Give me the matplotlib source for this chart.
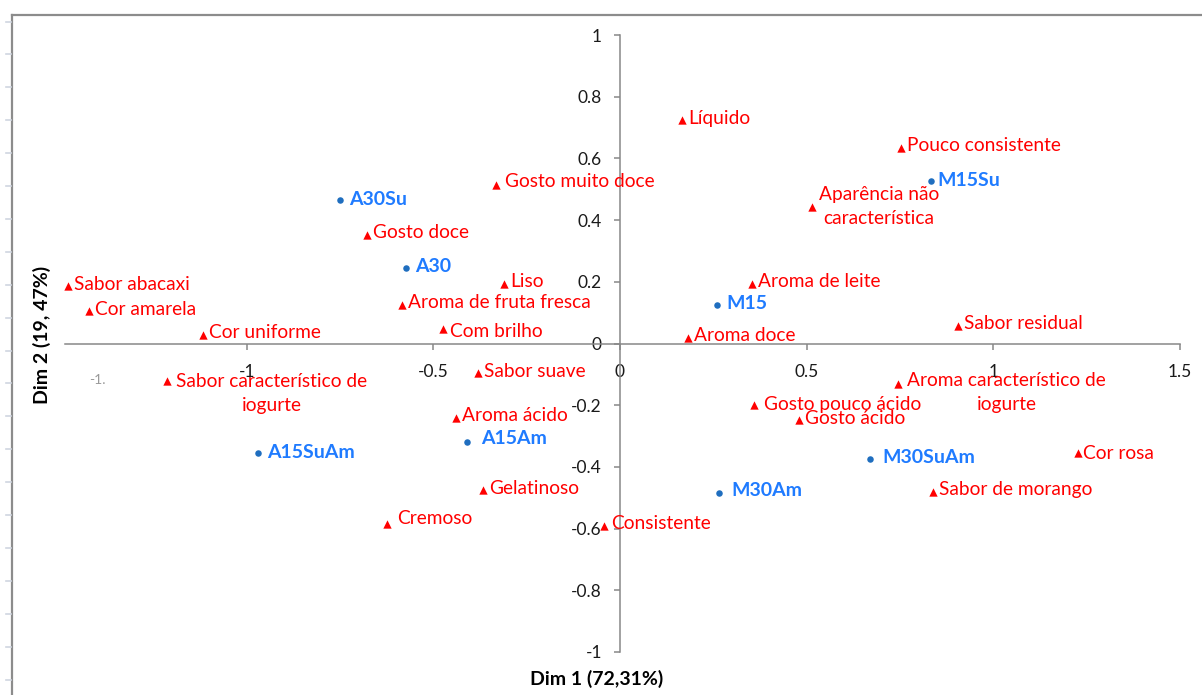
import matplotlib
matplotlib.use("Agg")
import matplotlib.pyplot as plt
from matplotlib.lines import Line2D
import numpy as np

plt.rcParams['font.family'] = ['Lato', 'DejaVu Sans']

# atributos sensoriais (triângulos vermelhos)
atributos = ["Líquido", "Pouco consistente", "Gosto muito doce",
             "Aparência não\ncaracterística", "Gosto doce", "Sabor abacaxi",
             "Cor amarela", "Liso", "Aroma de leite", "Aroma de fruta fresca",
             "Cor uniforme", "Com brilho", "Aroma doce", "Sabor residual",
             "Sabor característico de\niogurte", "Sabor suave",
             "Aroma característico de\niogurte", "Gosto pouco ácido",
             "Gosto ácido", "Aroma ácido", "Cor rosa", "Sabor de morango",
             "Gelatinoso", "Cremoso", "Consistente"]
atr_dim1 = [0.166, 0.753, -0.332, 0.514, -0.678, -1.479, -1.422, -0.311, 0.354,
            -0.584, -1.117, -0.474, 0.182, 0.905, -1.213, -0.380, 0.745, 0.359,
            0.480, -0.439, 1.227, 0.838, -0.367, -0.624, -0.043]
atr_dim2 = [0.724, 0.634, 0.514, 0.442, 0.352, 0.186, 0.105, 0.193, 0.193,
            0.125, 0.028, 0.047, 0.018, 0.057, -0.122, -0.096, -0.131, -0.199,
            -0.248, -0.241, -0.355, -0.481, -0.475, -0.585, -0.592]

# amostras (pontos azuis)
amostras = ["A30Su", "M15Su", "A30", "M15", "A15Am", "A15SuAm", "M30SuAm", "M30Am"]
am_dim1 = [-0.750, 0.833, -0.573, 0.260, -0.410, -0.970, 0.670, 0.265]
am_dim2 = [0.465, 0.527, 0.245, 0.125, -0.319, -0.355, -0.374, -0.485]

xticks = [-1, -0.5, 0, 0.5, 1, 1.5]
yticks = [-1, -0.8, -0.6, -0.4, -0.2, 0, 0.2, 0.4, 0.6, 0.8, 1]

RED = '#FF0000'
BLUE_PT = '#1F6EBF'
BLUE_TXT = '#1F7BFF'
GRAY = '#878787'

# deslocamento dos rótulos em pixels (padrão e exceções)
off_atr = {"Gosto muito doce": (9, 3), "Cremoso": (10, 5), "Consistente": (7, 3),
           "Com brilho": (7, -2), "Aparência não\ncaracterística": (7, 1),
           "Sabor característico de\niogurte": (9, -12),
           "Aroma característico de\niogurte": (9, -9),
           "Gosto pouco ácido": (10, 0), "Cor rosa": (5, 0)}
off_am = {"A15Am": (14, 3), "M15Su": (6, 0), "M30SuAm": (12, 1), "M30Am": (12, 3)}

fig = plt.figure(figsize=(12.02, 6.95), dpi=100)
ax = fig.add_axes([60 / 1202, 43 / 695, 1120 / 1202, 617 / 695])
ax.set_xlim(-1.5, 1.5)
ax.set_ylim(-1, 1)

ax.scatter(atr_dim1, atr_dim2, marker='^', s=36, color=RED, zorder=3, clip_on=False,
           linewidths=0)
ax.scatter(am_dim1, am_dim2, marker='o', s=22, color=BLUE_PT, zorder=3, clip_on=False,
           linewidths=0)

for nome, x, y in zip(atributos, atr_dim1, atr_dim2):
    dx, dy = off_atr.get(nome, (6, 2))
    ax.annotate(nome, (x, y), xytext=(dx, dy), textcoords='offset pixels',
                ha='left', va='center', multialignment='center', color=RED,
                fontsize=13.8, linespacing=1.5, annotation_clip=False)

for nome, x, y in zip(amostras, am_dim1, am_dim2):
    dx, dy = off_am.get(nome, (9, 1))
    ax.annotate(nome, (x, y), xytext=(dx, dy), textcoords='offset pixels',
                ha='left', va='center', color=BLUE_TXT, fontsize=14,
                fontweight='bold', annotation_clip=False)

# eixos cruzando na origem
for s in ['top', 'right']:
    ax.spines[s].set_visible(False)
ax.spines['left'].set_position(('data', 0))
ax.spines['bottom'].set_position(('data', 0))
ax.spines['left'].set_bounds(-1, 1)
ax.spines['bottom'].set_bounds(-1.487, 1.5)
for s in ['left', 'bottom']:
    ax.spines[s].set_color(GRAY)
    ax.spines[s].set_linewidth(1.1)

ax.set_xticks(xticks)
ax.set_xticklabels([f"{t:g}" for t in xticks])
ax.set_yticks(yticks)
ax.set_yticklabels([f"{t:g}" for t in yticks])
ax.tick_params(axis='both', direction='out', length=4, width=1.1, color=GRAY,
               labelsize=12.5, labelcolor='#1a1a1a')
ax.tick_params(axis='x', pad=11)
ax.tick_params(axis='y', pad=9)

fig.text(597 / 1202, 1 - 679 / 695, "Dim 1 (72,31%)", ha='center', va='center',
         fontsize=14, fontweight='bold')
fig.text(42 / 1202, 1 - 335 / 695, "Dim 2 (19, 47%)", ha='center', va='center',
         rotation=90, fontsize=14, fontweight='bold')
fig.text(97 / 1202, 1 - 380 / 695, "-1.", ha='center', va='center',
         fontsize=10, color='#9a9a9a')

# moldura da área do gráfico
fig.add_artist(Line2D([12 / 1202, 12 / 1202], [0, 1 - 15 / 695], transform=fig.transFigure,
                      color='#8c8c8c', lw=1.6))
fig.add_artist(Line2D([12 / 1202, 1], [1 - 15 / 695, 1 - 15 / 695], transform=fig.transFigure,
                      color='#8c8c8c', lw=1.6))
for py in np.arange(21.5, 695, 32.9):
    fig.add_artist(Line2D([6 / 1202, 11 / 1202], [1 - py / 695, 1 - py / 695],
                          transform=fig.transFigure, color='#d0d6e0', lw=1.2))

fig.savefig("out.png", dpi=100)
